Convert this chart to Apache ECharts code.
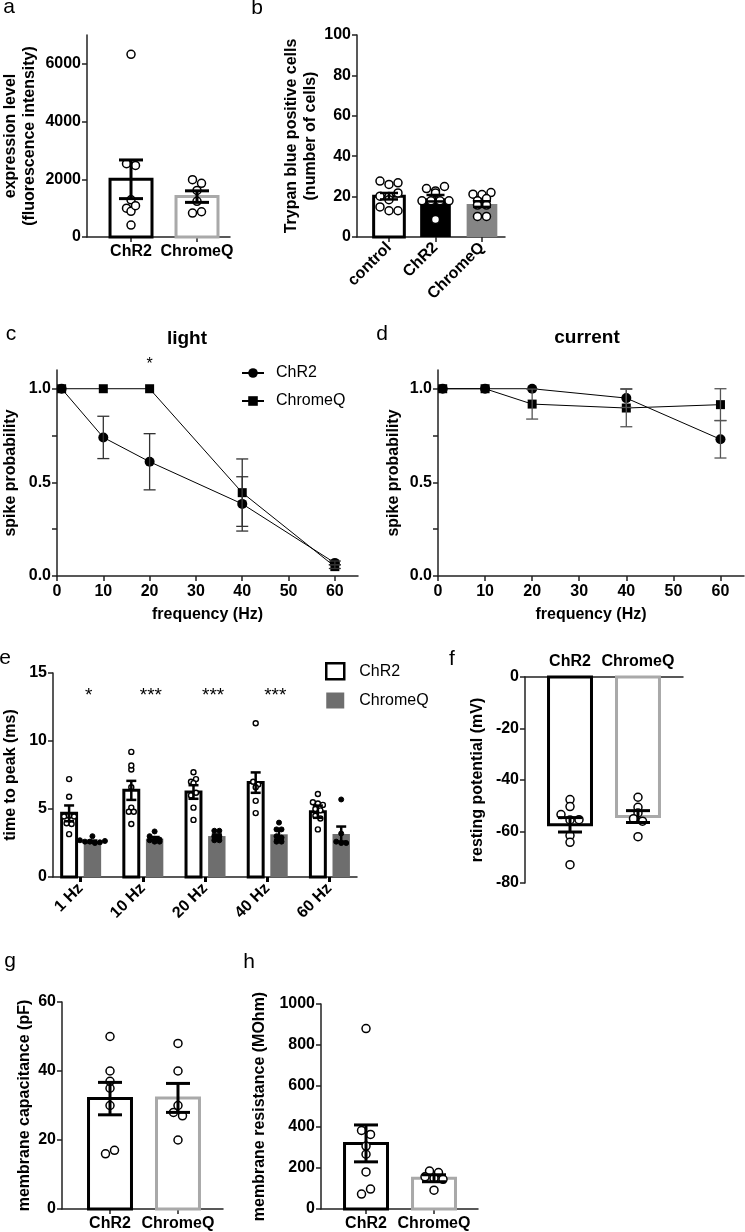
<!DOCTYPE html>
<html><head><meta charset="utf-8">
<script src="https://cdn.jsdelivr.net/npm/echarts@6/dist/echarts.min.js"></script>
<style>html,body{margin:0;padding:0;background:#fff}#c{width:745px;height:1232px}</style>
</head><body><div id="c"></div>
<script>
// ---------------- DATA ----------------
// a: expression level
const aCategories = ['ChR2', 'ChromeQ'];
const aMeans = [2000, 1400];
const aSems = [670, 200];
const aChR2 = [6330, 2540, 2480, 1290, 1000, 890, 1085, 415];
const aChromeQ = [1985, 1860, 1615, 1235, 830, 875];
const aYTicks = [0, 2000, 4000, 6000];

// b: trypan blue
const bCategories = ['control', 'ChR2', 'ChromeQ'];
const bMeans = [20.2, 19.2, 16.3];
const bSems = [1.6, 1.6, 1.4];
const bControl = [27.7, 26, 26.8, 20.2, 20, 21.8, 18.5, 14.9, 13, 13];
const bChR2 = [24, 22.8, 21.8, 25, 17.9, 17.9, 17.9, 17.9, 8.7];
const bChromeQ = [21.2, 21, 22, 17.9, 19, 15.8, 15.8, 10.2, 10.2];

// c, d: spike probability
const freqHz = [1, 10, 20, 40, 60];
const cChR2 = [1.0, 0.74, 0.61, 0.385, 0.07];
const cChR2Sem = [0, 0.113, 0.15, 0.145, 0.01];
const cChromeQ = [1.0, 1.0, 1.0, 0.445, 0.05];
const cChromeQSem = [0, 0, 0, 0.18, 0.01];
const cStars = ['', '', '*', '', ''];
const dChR2 = [1.0, 1.0, 1.0, 0.95, 0.73];
const dChR2Sem = [0, 0, 0, 0.05, 0.1];
const dChromeQ = [1.0, 1.0, 0.918, 0.897, 0.915];
const dChromeQSem = [0, 0, 0.08, 0.1, 0.085];
const freqTicks = [0, 10, 20, 30, 40, 50, 60];
const probTicks = [0, 0.25, 0.5, 0.75, 1.0];
const probLabels = [0, 0.5, 1.0];

// e: time to peak
const eCategories = ['1 Hz', '10 Hz', '20 Hz', '40 Hz', '60 Hz'];
const eChR2Means = [4.68, 6.37, 6.25, 6.94, 4.8];
const eChR2Sems = [0.58, 0.7, 0.5, 0.75, 0.45];
const eChromeQMeans = [2.6, 2.82, 3.01, 3.14, 3.16];
const eChromeQSems = [0.08, 0.12, 0.12, 0.4, 0.55];
const eChR2Points = [
  [7.2, 5.9, 4.45, 4.5, 4.45, 3.95, 3.9, 3.15],
  [9.2, 7.9, 8.2, 6.6, 5.1, 4.8, 4.8, 3.9],
  [7.7, 7.0, 7.2, 6.9, 6.0, 6.2, 5.1, 4.2],
  [11.3, 7.0, 6.8, 6.6, 5.6, 4.7],
  [6.1, 5.5, 5.4, 5.3, 5.0, 4.9, 4.5, 4.3, 3.5]
];
const eChromeQPoints = [
  [3.0, 2.7, 2.6, 2.6, 2.5, 2.55, 2.65],
  [3.35, 3.0, 2.8, 2.7, 2.6, 2.6, 2.75],
  [3.4, 3.4, 3.0, 3.0, 2.7, 2.7],
  [4.0, 3.5, 3.5, 3.0, 2.9, 2.6, 2.6],
  [5.7, 3.2, 2.6, 2.5, 2.5]
];
const eStars = ['*', '***', '***', '***', ''];
const eYTicks = [0, 5, 10, 15];

// f: resting potential
const fCategories = ['ChR2', 'ChromeQ'];
const fMeans = [-57.4, -54.2];
const fSems = [2.8, 2.3];
const fChR2 = [-47.6, -50.3, -53.4, -55.5, -55.4, -61.6, -64.2, -72.9];
const fChromeQ = [-46.7, -50.6, -52.8, -55.0, -56.0, -62.0];

// g: membrane capacitance
const gCategories = ['ChR2', 'ChromeQ'];
const gMeans = [32.0, 32.2];
const gSems = [4.7, 4.2];
const gChR2 = [50, 40, 35, 37, 30, 16, 17];
const gChromeQ = [48, 40, 28, 30, 27, 20];

// h: membrane resistance
const hCategories = ['ChR2', 'ChromeQ'];
const hMeans = [320, 150];
const hSems = [90, 17];
const hChR2 = [880, 383, 364, 307, 267, 181, 73, 97];
const hChromeQ = [185, 157, 178, 150, 145, 92];

// ---------------- STYLE ----------------
const FONT = '"Liberation Sans", Arial, Helvetica, sans-serif';
const AXC = '#222';
const LBL = {fontFamily: FONT, fontSize: 16, fontWeight: 'bold', color: '#000'};
const NAME = {fontFamily: FONT, fontSize: 16, fontWeight: 'bold', color: '#000', lineHeight: 19};
const LIGHT_GRAY = '#a9a9a9';
const MID_GRAY = '#858585';
const DARK_GRAY = '#6e6e6e';

const chart = echarts.init(document.getElementById('c'), null, {renderer: 'canvas'});

const grids = [
  {left: 87, top: 35, width: 143, height: 202},   // a
  {left: 357, top: 35, width: 148, height: 202},  // b
  {left: 52, top: 370, width: 306, height: 206},  // c
  {left: 438, top: 370, width: 306, height: 206}, // d
  {left: 49, top: 673, width: 308, height: 204},  // e
  {left: 525, top: 677, width: 158, height: 206}, // f
  {left: 62, top: 1002, width: 161, height: 208}, // g
  {left: 321, top: 1004, width: 157, height: 206} // h
];

function xCat(gi, min, max, cats, o) {
  o = o || {};
  const vals = cats.map((_, i) => i);
  return {
    gridIndex: gi, type: 'value', min, max, position: o.position || 'bottom',
    axisLine: {show: true, onZero: false, lineStyle: {color: AXC, width: 1.5}},
    axisTick: {show: true, customValues: vals, inside: !!o.tickInside, length: o.tickLen || 5,
      lineStyle: {color: o.tickColor || AXC, width: o.tickWidth || 1.5}},
    axisLabel: Object.assign({customValues: vals, formatter: v => cats[Math.round(v)],
      rotate: o.rotate || 0, margin: o.margin || 7}, LBL),
    splitLine: {show: false}
  };
}
function yVal(gi, min, max, ticks, name, gap, o) {
  o = o || {};
  return {
    gridIndex: gi, type: 'value', min, max,
    axisLine: {show: true, onZero: false, lineStyle: {color: AXC, width: 1.5}},
    axisTick: {show: true, customValues: ticks, length: 5, lineStyle: {color: AXC, width: 1.5}},
    axisLabel: Object.assign({customValues: o.labels || ticks, margin: 6,
      formatter: o.fmt || (v => String(v))}, LBL),
    splitLine: {show: false},
    name, nameLocation: 'middle', nameGap: gap, nameTextStyle: NAME
  };
}
function xFreq(gi) {
  return {
    gridIndex: gi, type: 'value', min: 0, max: 65,
    axisLine: {show: true, onZero: false, lineStyle: {color: AXC, width: 1.5}},
    axisTick: {show: true, customValues: freqTicks, length: 5, lineStyle: {color: AXC, width: 1.5}},
    axisLabel: Object.assign({customValues: freqTicks, margin: 8, formatter: v => String(v)}, LBL),
    splitLine: {show: false},
    name: 'frequency (Hz)', nameLocation: 'middle', nameGap: 29, nameTextStyle: NAME
  };
}

// ---- series helpers ----
function bars(name, gi, xs, vals, hw, styleOf) {
  return {
    type: 'custom', name, xAxisIndex: gi, yAxisIndex: gi, z: 2, clip: false,
    data: vals.map((v, i) => [xs[i], v]),
    renderItem(params, api) {
      const x = api.value(0), y = api.value(1);
      const p1 = api.coord([x - hw, y]), p0 = api.coord([x + hw, 0]);
      return {type: 'rect',
        shape: {x: p1[0], y: Math.min(p1[1], p0[1]), width: p0[0] - p1[0], height: Math.abs(p0[1] - p1[1])},
        style: styleOf(params.dataIndex)};
    }
  };
}
function errs(name, gi, xs, means, sems, capPx, color, lw) {
  return {
    type: 'custom', name, xAxisIndex: gi, yAxisIndex: gi, z: 5, clip: false,
    data: means.map((m, i) => [xs[i], m, sems[i]]),
    renderItem(params, api) {
      const x = api.value(0), m = api.value(1), s = api.value(2);
      if (!s) return null;
      const t = api.coord([x, m + s]), b = api.coord([x, m - s]);
      const st = {stroke: color, lineWidth: lw, fill: null};
      return {type: 'group', children: [
        {type: 'line', shape: {x1: t[0], y1: t[1], x2: b[0], y2: b[1]}, style: st},
        {type: 'line', shape: {x1: t[0] - capPx, y1: t[1], x2: t[0] + capPx, y2: t[1]}, style: st},
        {type: 'line', shape: {x1: b[0] - capPx, y1: b[1], x2: b[0] + capPx, y2: b[1]}, style: st}
      ]};
    }
  };
}
// scatter dots laid out GraphPad-style: points in the same row are spread symmetrically
function dots(name, gi, xc, vals, o) {
  return {
    type: 'custom', name, xAxisIndex: gi, yAxisIndex: gi, z: 3, clip: false,
    data: vals.map(v => [xc, v]),
    renderItem(params, api) {
      const ctx = params.context;
      if (!ctx.offs) {
        const ys = vals.map(v => api.coord([xc, v])[1]);
        const order = ys.map((_, i) => i).sort((i, j) => (ys[i] - ys[j]) || (i - j));
        const offs = vals.map(() => 0);
        let row = [];
        const flush = () => {
          const r = row.slice().sort((p, q) => p - q);
          r.forEach((idx, k) => { offs[idx] = (k - (r.length - 1) / 2) * o.spacing; });
        };
        for (const i of order) {
          if (row.length && ys[i] - ys[row[0]] >= o.threshold) { flush(); row = []; }
          row.push(i);
        }
        if (row.length) flush();
        ctx.offs = offs;
      }
      const p = api.coord([api.value(0), api.value(1)]);
      return {type: 'circle', shape: {cx: p[0] + ctx.offs[params.dataIndex], cy: p[1], r: o.d / 2},
        style: {fill: o.fill, stroke: o.stroke, lineWidth: o.lw}};
    }
  };
}
function stars(gi, xs, ys, labels, fontSize) {
  return {
    type: 'custom', name: 'stars' + gi, xAxisIndex: gi, yAxisIndex: gi, z: 6, clip: false,
    data: xs.map((x, i) => [x, ys[i]]),
    renderItem(params, api) {
      const lab = labels[params.dataIndex];
      if (!lab) return null;
      const p = api.coord([api.value(0), api.value(1)]);
      return {type: 'text', x: p[0], y: p[1],
        style: {text: lab, fill: '#000', fontSize, fontFamily: FONT, align: 'center', verticalAlign: 'middle'}};
    }
  };
}

const openDot = {d: 8, lw: 1.5, fill: '#fff', stroke: '#000', spacing: 9, threshold: 5.5};
const openDotS = {d: 5, lw: 1.4, fill: '#fff', stroke: '#000', spacing: 5, threshold: 3.5};
const fillDotS = {d: 5, lw: 1, fill: '#000', stroke: '#000', spacing: 5, threshold: 3.5};

const outlined = (colors) => i => ({fill: '#fff', stroke: colors[i], lineWidth: 3});
const pairColors = ['#000', LIGHT_GRAY];

const series = [];
// a
series.push(bars('a-bars', 0, [0, 1], aMeans, 0.318, outlined(pairColors)));
series.push(dots('a-ChR2', 0, 0, aChR2, openDot));
series.push(dots('a-ChromeQ', 0, 1, aChromeQ, openDot));
series.push(errs('a-err', 0, [0, 1], aMeans, aSems, 12, '#000', 3));
// b
series.push(bars('b-bars', 1, [0, 1, 2], bMeans, 0.33, i => [
  {fill: '#fff', stroke: '#000', lineWidth: 3},
  {fill: '#000', stroke: '#000', lineWidth: 0},
  {fill: MID_GRAY, stroke: MID_GRAY, lineWidth: 0}][i]));
series.push(dots('b-control', 1, 0, bControl, openDot));
series.push(dots('b-ChR2', 1, 1, bChR2, openDot));
series.push(dots('b-ChromeQ', 1, 2, bChromeQ, openDot));
series.push(errs('b-err', 1, [0, 1, 2], bMeans, bSems, 9, '#000', 2.5));
// c
series.push(errs('c-err1', 2, freqHz, cChR2, cChR2Sem, 6, '#333', 1.3));
series.push(errs('c-err2', 2, freqHz, cChromeQ, cChromeQSem, 6, '#333', 1.3));
series.push({type: 'line', name: 'ChR2', xAxisIndex: 2, yAxisIndex: 2, z: 4,
  data: freqHz.map((f, i) => [f, cChR2[i]]), symbol: 'circle', symbolSize: 10,
  lineStyle: {color: '#000', width: 1}, itemStyle: {color: '#000'}});
series.push({type: 'line', name: 'ChromeQ', xAxisIndex: 2, yAxisIndex: 2, z: 4,
  data: freqHz.map((f, i) => [f, cChromeQ[i]]), symbol: 'rect', symbolSize: 9,
  lineStyle: {color: '#000', width: 1}, itemStyle: {color: '#000'}});
series.push(stars(2, freqHz, freqHz.map((_, i) => Math.max(cChR2[i] + cChR2Sem[i], cChromeQ[i] + cChromeQSem[i]) + 0.127), cStars, 16));
// d
series.push(errs('d-err1', 3, freqHz, dChR2, dChR2Sem, 6, '#555', 1.3));
series.push(errs('d-err2', 3, freqHz, dChromeQ, dChromeQSem, 6, '#555', 1.3));
series.push({type: 'line', name: 'd-ChR2', xAxisIndex: 3, yAxisIndex: 3, z: 4,
  data: freqHz.map((f, i) => [f, dChR2[i]]), symbol: 'circle', symbolSize: 10,
  lineStyle: {color: '#000', width: 1}, itemStyle: {color: '#000'}});
series.push({type: 'line', name: 'd-ChromeQ', xAxisIndex: 3, yAxisIndex: 3, z: 4,
  data: freqHz.map((f, i) => [f, dChromeQ[i]]), symbol: 'rect', symbolSize: 9,
  lineStyle: {color: '#000', width: 1}, itemStyle: {color: '#000'}});
// e
const eX1 = eCategories.map((_, i) => i - 0.185);
const eX2 = eCategories.map((_, i) => i + 0.19);
series.push(bars('ChR2 ', 4, eX1, eChR2Means, 0.12, () => ({fill: '#fff', stroke: '#000', lineWidth: 3})));
series.push(bars('ChromeQ ', 4, eX2, eChromeQMeans, 0.14, () => ({fill: DARK_GRAY, stroke: DARK_GRAY, lineWidth: 0})));
eChR2Points.forEach((pts, i) => series.push(dots('e-c' + i, 4, eX1[i], pts, openDotS)));
eChromeQPoints.forEach((pts, i) => series.push(dots('e-q' + i, 4, eX2[i], pts, fillDotS)));
series.push(errs('e-err1', 4, eX1, eChR2Means, eChR2Sems, 5, '#000', 2.5));
series.push(errs('e-err2', 4, eX2, eChromeQMeans, eChromeQSems, 5, '#000', 2.5));
const eStarLevel = 13.3;
series.push(stars(4, eCategories.map((_, i) => i + 0.13), eCategories.map(() => eStarLevel), eStars, 19));
// f
series.push(bars('f-bars', 5, [0, 1], fMeans, 0.316, outlined(pairColors)));
series.push(dots('f-ChR2', 5, 0, fChR2, openDot));
series.push(dots('f-ChromeQ', 5, 1, fChromeQ, openDot));
series.push(errs('f-err', 5, [0, 1], fMeans, fSems, 12, '#000', 3));
// g
series.push(bars('g-bars', 6, [0, 1], gMeans, 0.316, outlined(pairColors)));
series.push(dots('g-ChR2', 6, 0, gChR2, openDot));
series.push(dots('g-ChromeQ', 6, 1, gChromeQ, openDot));
series.push(errs('g-err', 6, [0, 1], gMeans, gSems, 12, '#000', 3));
// h
series.push(bars('h-bars', 7, [0, 1], hMeans, 0.316, outlined(pairColors)));
series.push(dots('h-ChR2', 7, 0, hChR2, openDot));
series.push(dots('h-ChromeQ', 7, 1, hChromeQ, openDot));
series.push(errs('h-err', 7, [0, 1], hMeans, hSems, 12, '#000', 3));

const letter = (t, x, y) => ({type: 'text', x, y, style: {text: t, fontSize: 21, fontFamily: FONT, fill: '#000', align: 'center', verticalAlign: 'middle'}});

const option = {
  animation: false,
  textStyle: {fontFamily: FONT},
  grid: grids,
  xAxis: [
    xCat(0, -0.667, 1.5, aCategories),
    xCat(1, -0.688, 2.495, bCategories, {rotate: 45, margin: 8}),
    xFreq(2),
    xFreq(3),
    xCat(4, -0.444, 4.444, eCategories, {rotate: 45, margin: 9, tickWidth: 3, tickColor: '#000', tickLen: 5}),
    xCat(5, -0.662, 1.662, fCategories, {position: 'top', tickInside: true}),
    xCat(6, -0.706, 1.662, gCategories),
    xCat(7, -0.662, 1.647, hCategories)
  ],
  yAxis: [
    yVal(0, 0, 7000, aYTicks, 'expression level\n(fluorescence intensity)', 48),
    yVal(1, 0, 100, [0, 20, 40, 60, 80, 100], 'Trypan blue positive cells\n(number of cells)', 34),
    yVal(2, 0, 1.1, probTicks, 'spike probability', 37, {labels: probLabels, fmt: v => v.toFixed(1)}),
    yVal(3, 0, 1.1, probTicks, 'spike probability', 35, {labels: probLabels, fmt: v => v.toFixed(1)}),
    yVal(4, 0, 15, eYTicks, 'time to peak (ms)', 33),
    yVal(5, -80, 0, [-80, -60, -40, -20, 0], 'resting potential (mV)', 38),
    yVal(6, 0, 60, [0, 20, 40, 60], 'membrane capacitance (pF)', 26),
    yVal(7, 0, 1000, [0, 200, 400, 600, 800, 1000], 'membrane resistance (MOhm)', 52)
  ],
  legend: [
    {data: ['ChR2', 'ChromeQ'], orient: 'vertical', left: 241, top: 365, padding: 0, itemWidth: 22, itemHeight: 12,
      itemGap: 12, selectedMode: false,
      textStyle: {fontSize: 16, fontFamily: FONT, color: '#000', padding: [0, 0, 0, 7]}},
    {data: [
      {name: 'ChR2 ', icon: 'rect', itemStyle: {color: '#fff', borderColor: '#000', borderWidth: 2.5}},
      {name: 'ChromeQ ', icon: 'rect', itemStyle: {color: DARK_GRAY, borderWidth: 0}}],
      orient: 'vertical', left: 325, top: 662, padding: 0, itemWidth: 18, itemHeight: 16, itemGap: 12, selectedMode: false,
      textStyle: {fontSize: 16, fontFamily: FONT, color: '#000', padding: [0, 0, 0, 10]}}
  ],
  graphic: [
    letter('a', 9, 7), letter('b', 257, 8), letter('c', 11, 334), letter('d', 382, 334),
    letter('e', 5, 658), letter('f', 452, 659), letter('g', 10, 961), letter('h', 249, 962),
    {type: 'text', x: 187, y: 339, style: {text: 'light', fontSize: 19, fontWeight: 'bold', fontFamily: FONT, fill: '#000', align: 'center', verticalAlign: 'middle'}},
    {type: 'text', x: 587, y: 338, style: {text: 'current', fontSize: 19, fontWeight: 'bold', fontFamily: FONT, fill: '#000', align: 'center', verticalAlign: 'middle'}}
  ],
  series
};
chart.setOption(option);
</script>
</body></html>
